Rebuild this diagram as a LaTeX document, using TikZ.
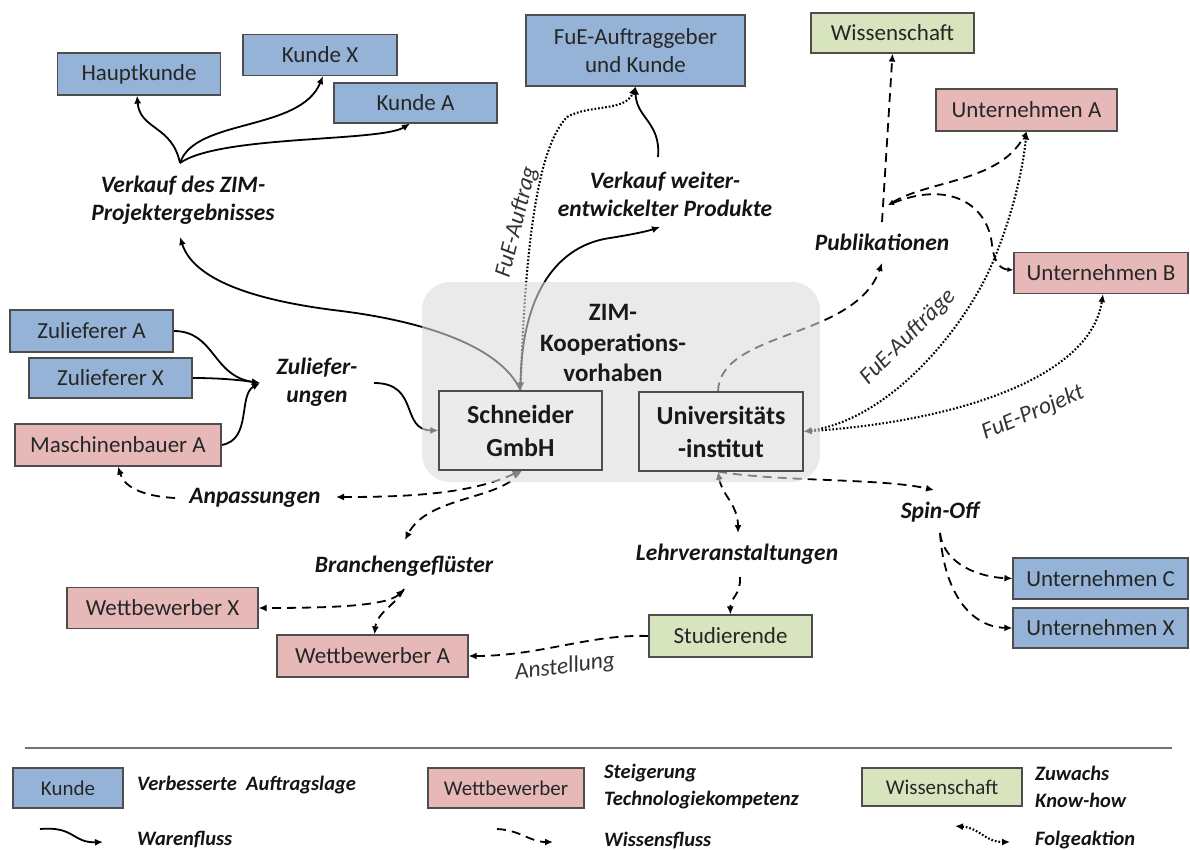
\documentclass[tikz,border=0pt]{standalone}
\usepackage{fontspec}
\setmainfont{Carlito}
\usetikzlibrary{arrows.meta}
\definecolor{kundeblue}{HTML}{95B3D7}
\definecolor{wettred}{HTML}{E6B9B8}
\definecolor{wissgreen}{HTML}{D7E4BD}
\definecolor{coregray}{HTML}{EBEBEB}
\definecolor{boxline}{HTML}{4D4D4D}
\pgfdeclarelayer{flows}
\pgfsetlayers{flows,main}
\begin{document}
\begin{tikzpicture}[x=1pt,y=-1pt,
  >={Latex[length=8pt,width=7pt]},
  box/.style={draw=boxline, line width=1.2pt, inner sep=0pt, align=center,
    text=black!85, font=\fontsize{23}{28}\selectfont},
  kunde/.style={box, fill=kundeblue},
  wettb/.style={box, fill=wettred},
  wissb/.style={box, fill=wissgreen},
  core/.style={box, fill=coregray, text=black!90, font=\bfseries\fontsize{26}{33}\selectfont},
  lab/.style={inner sep=0pt, align=center, text=black!92,
    font=\bfseries\itshape\fontsize{23.5}{28}\selectfont},
  rlab/.style={inner sep=0pt, text=black!80, font=\itshape\fontsize{23.5}{27}\selectfont},
  legbox/.style={box, font=\fontsize{21}{25}\selectfont},
  legtext/.style={inner sep=0pt, anchor=west, align=left, text=black!92,
    font=\bfseries\itshape\fontsize{20.5}{27}\selectfont},
  ware/.style={line width=1.8pt, ->},
  wissen/.style={line width=1.8pt, dash pattern=on 9pt off 6pt, ->},
  folge/.style={line width=2.1pt, dash pattern=on 1.7pt off 1.9pt, <->},
]
\useasboundingbox (0,0) rectangle (1190,850);

% translucent cooperation area, lying over the flows but under the partner boxes
\fill[black!14, fill opacity=0.58, rounded corners=28pt] (422,282) rectangle (820,482);

% ---------- boxes ----------
\node[kunde, minimum width=163pt, minimum height=42pt] (hk) at (139,74) {Hauptkunde};
\node[kunde, minimum width=154pt, minimum height=41pt] (kx) at (320,55) {Kunde X};
\node[kunde, minimum width=163pt, minimum height=40pt] (ka) at (415.5,103) {Kunde A};
\node[kunde, minimum width=219pt, minimum height=71pt] (fue) at (635.5,50.5) {FuE-Auftraggeber\\und Kunde};
\node[wissb, minimum width=163pt, minimum height=40pt] (wis) at (892.5,33) {Wissenschaft};
\node[wettb, minimum width=181pt, minimum height=42pt] (ua) at (1026.5,110) {Unternehmen A};
\node[wettb, minimum width=174pt, minimum height=41pt] (ub) at (1101,273) {Unternehmen B};
\node[kunde, minimum width=163pt, minimum height=42pt] (zla) at (91.5,331) {Zulieferer A};
\node[kunde, minimum width=163pt, minimum height=40pt] (zlx) at (110.5,378) {Zulieferer X};
\node[wettb, minimum width=206pt, minimum height=42pt] (mba) at (118,445) {Maschinenbauer A};
\node[core, minimum width=163pt, minimum height=79pt] (sch) at (520.5,430.5) {Schneider\\GmbH};
\node[core, minimum width=164pt, minimum height=79pt] (uni) at (721,431.5) {Universitäts\\-institut};
\node[kunde, minimum width=175pt, minimum height=41pt] (uc) at (1100.5,578.5) {Unternehmen C};
\node[kunde, minimum width=175pt, minimum height=40pt] (ux) at (1100.5,628) {Unternehmen X};
\node[wettb, minimum width=191pt, minimum height=41pt] (wx) at (162.5,608) {Wettbewerber X};
\node[wettb, minimum width=191pt, minimum height=42pt] (wa) at (372.5,656) {Wettbewerber A};
\node[wissb, minimum width=163pt, minimum height=42pt] (stu) at (730.5,636) {Studierende};

% ---------- labels ----------
\node[font=\bfseries\fontsize{25}{30.5}\selectfont, align=center, inner sep=0pt, text=black!90]
  (zim) at (613,343) {ZIM-\\Kooperations-\\vorhaben};
\node[lab] (vzim) at (183,200) {Verkauf des ZIM-\\Projektergebnisses};
\node[lab] (vwp) at (665,194) {Verkauf weiter-\\entwickelter Produkte};
\node[lab] (zul) at (317,382) {Zuliefer-\\ungen};
\node[lab] (anp) at (255,498) {Anpassungen};
\node[lab] (bra) at (404,566) {Branchengeflüster};
\node[lab] (lehr) at (737,554) {Lehrveranstaltungen};
\node[lab] (spin) at (940,512) {Spin-Off};
\node[lab] (pub) at (882,242) {Publikationen};
\node[rlab, rotate=76] (lfa) at (517,222) {FuE-Auftrag};
\node[rlab, rotate=45] (lfas) at (908,337) {FuE-Aufträge};
\node[rlab, rotate=23] (lfp) at (1033,413) {FuE-Projekt};
\node[rlab, rotate=7] (lans) at (565,667) {Anstellung};

% attachment points next to the labels
\coordinate (vzimT) at (180,163);
\coordinate (vzimB) at (180,237);
\coordinate (vwpT) at (658,157);
\coordinate (vwpB) at (660,227);
\coordinate (zulM) at (260,383);
\coordinate (zulR) at (374,383);
\coordinate (anpR) at (336,497);
\coordinate (anpL) at (175,498);
\coordinate (braT) at (405,540);
\coordinate (braB) at (404,589);
\coordinate (pubB) at (882,263);
\coordinate (pubT) at (882,222);
\coordinate (pubJ) at (888,205);
\coordinate (lehrT) at (738,533);
\coordinate (lehrB) at (740,577);
\coordinate (spinT) at (934,490);
\coordinate (spinB) at (940,533);

% ---------- flows ----------
\begin{pgfonlayer}{flows}
% goods
\draw[ware] (sch.north) .. controls (500,345) and (420,320) .. (333,310)
  .. controls (240,298) and (192,275) .. (vzimB);
\draw[ware] (vzimT) .. controls (172,125) and (140,130) .. ([xshift=-2pt]hk.south);
\draw[ware] (vzimT) .. controls (195,118) and (300,132) .. ([xshift=3pt]kx.south);
\draw[ware] (vzimT) .. controls (220,135) and (380,142) .. ([xshift=-5.5pt]ka.south);
\draw[ware] (sch.north) .. controls (520,290) and (560,245) .. (610,238)
  .. controls (635,234) and (648,231) .. (vwpB);
\draw[ware] (vwpT) .. controls (661,122) and (636,118) .. (fue.south);
\draw[ware] (zla.east) .. controls (215,331) and (212,376) .. (zulM);
\draw[ware] (zlx.east) .. controls (220,378) and (240,380) .. (zulM);
\draw[ware] (mba.east) .. controls (252,440) and (238,395) .. (zulM);
\draw[ware] (zulR) .. controls (420,383) and (400,430) .. (sch.west);
% knowledge
\draw[wissen, <->] (sch.south) .. controls (470,495) and (400,497) .. (anpR);
\draw[wissen] (anpL) .. controls (140,496) and (124,486) .. (mba.south);
\draw[wissen] (sch.south) .. controls (505,500) and (428,495) .. (braT);
\draw[wissen, <->] (braB) .. controls (388,606) and (330,608) .. (wx.east);
\draw[wissen] (braB) .. controls (396,605) and (377,612) .. ([xshift=2pt]wa.north);
\draw[wissen] ([xshift=-3pt]uni.north) .. controls (720,330) and (855,340) .. (pubB);
\draw[wissen] (pubT) -- (wis.south);
\draw[wissen, <->, >={Latex[length=6pt,width=5pt]}] (pubJ) .. controls (930,180) and (1000,182) .. (ua.south);
\draw[wissen, <->, >={Latex[length=6pt,width=5pt]}] (pubJ) .. controls (950,180) and (988,205) .. (992,245)
  .. controls (994,262) and (1000,269) .. ([yshift=3pt]ub.west);
\draw[wissen, <->] ([xshift=-3pt]uni.south) .. controls (722,495) and (738,505) .. (lehrT);
\draw[wissen] ([xshift=-3pt]uni.south) .. controls (780,482) and (880,478) .. (spinT);
\draw[wissen] (lehrB) .. controls (741,595) and (730,598) .. (stu.north);
\draw[wissen] (stu.west) .. controls (590,634) and (540,656) .. (wa.east);
\draw[wissen] (spinB) .. controls (944,565) and (980,577) .. (uc.west);
\draw[wissen] (spinB) .. controls (944,592) and (970,627) .. (ux.west);
% follow-up actions
\draw[folge] (sch.north) .. controls (525,260) and (535,150) .. (567,117)
  .. controls (590,104) and (625,112) .. (fue.south);
\draw[folge] (uni.east) .. controls (885,420) and (955,340) .. (987,275)
  .. controls (1006,235) and (1022,180) .. (ua.south);
\draw[folge] (uni.east) .. controls (950,422) and (1090,380) .. ([xshift=2pt]ub.south);
\end{pgfonlayer}

% ---------- legend ----------
\coordinate (sepL) at (25,748);
\coordinate (sepR) at (1172,748);
\draw[line width=2pt, black!55] (sepL) -- (sepR);
\node[legbox, fill=kundeblue, minimum width=110pt, minimum height=40pt] (lk) at (68,788) {Kunde};
\node[legtext] (lkt) at (137,785) {Verbesserte\ \ Auftragslage};
\node[legbox, fill=wettred, minimum width=156pt, minimum height=40pt] (lw) at (506,788) {Wettbewerber};
\node[legtext] (lwt) at (604,787) {Steigerung\\Technologiekompetenz};
\node[legbox, fill=wissgreen, minimum width=160pt, minimum height=38pt] (lwi) at (942,787) {Wissenschaft};
\node[legtext] (lwit) at (1035,787) {Zuwachs\\Know-how};
\coordinate (waA) at (40,829);
\coordinate (waB) at (103,842);
\draw[ware] (waA) .. controls (75,826) and (72,843) .. (waB);
\node[legtext] (lwa) at (137,840) {Warenfluss};
\coordinate (wiA) at (497,829);
\coordinate (wiB) at (553,842);
\draw[wissen] (wiA) .. controls (520,830) and (530,842) .. (wiB);
\node[legtext] (lwi2) at (604,840) {Wissensfluss};
\coordinate (foA) at (955,826);
\coordinate (foB) at (1010,842);
\draw[folge] (foA) .. controls (980,828) and (985,842) .. (foB);
\node[legtext] (lfo) at (1035,840) {Folgeaktion};
\end{tikzpicture}
\end{document}
